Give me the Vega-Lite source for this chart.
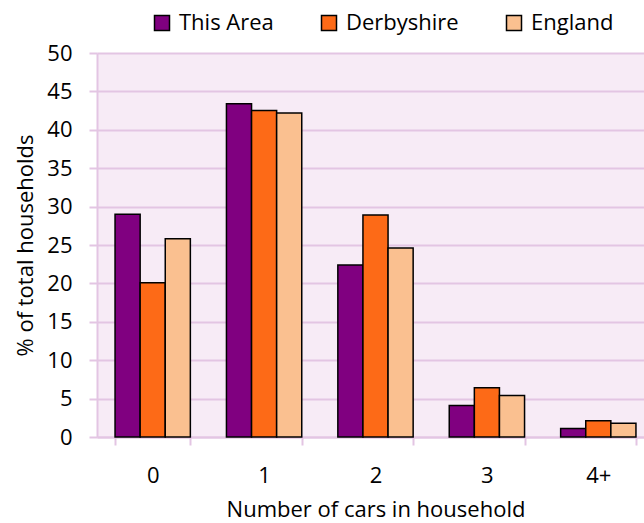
{
  "$schema": "https://vega.github.io/schema/vega-lite/v6.json",
  "width": 557,
  "height": 384,
  "autosize": {"type": "none"},
  "padding": {"left": 97, "top": 53, "right": 0, "bottom": 86},
  "background": "white",
  "config": {
    "font": "Open Sans",
    "view": {"fill": "#F7EBF6", "stroke": null}
  },
  "data": {
    "values": [
      {"cars": "0", "area": "This Area", "value": 29.0},
      {"cars": "0", "area": "Derbyshire", "value": 20.1},
      {"cars": "0", "area": "England", "value": 25.8},
      {"cars": "1", "area": "This Area", "value": 43.4},
      {"cars": "1", "area": "Derbyshire", "value": 42.5},
      {"cars": "1", "area": "England", "value": 42.2},
      {"cars": "2", "area": "This Area", "value": 22.4},
      {"cars": "2", "area": "Derbyshire", "value": 28.9},
      {"cars": "2", "area": "England", "value": 24.6},
      {"cars": "3", "area": "This Area", "value": 4.1},
      {"cars": "3", "area": "Derbyshire", "value": 6.4},
      {"cars": "3", "area": "England", "value": 5.4},
      {"cars": "4+", "area": "This Area", "value": 1.1},
      {"cars": "4+", "area": "Derbyshire", "value": 2.1},
      {"cars": "4+", "area": "England", "value": 1.8}
    ]
  },
  "mark": {"type": "bar", "stroke": "black", "strokeWidth": 1.5},
  "encoding": {
    "x": {
      "field": "cars",
      "type": "nominal",
      "sort": ["0", "1", "2", "3", "4+"],
      "scale": {"paddingInner": 0.324, "paddingOuter": 0.162},
      "axis": {
        "title": "Number of cars in household",
        "labelAngle": 0,
        "labelFontSize": 22,
        "labelColor": "black",
        "labelPadding": 20,
        "titleFontSize": 22,
        "titleFontWeight": "normal",
        "titleColor": "black",
        "titlePadding": 13,
        "domainColor": "#E3C5E3",
        "domainWidth": 2,
        "tickColor": "#E3C5E3",
        "tickWidth": 2,
        "tickSize": 8,
        "tickBand": "extent",
        "grid": false
      }
    },
    "xOffset": {
      "field": "area",
      "type": "nominal",
      "sort": ["This Area", "Derbyshire", "England"],
      "scale": {"paddingInner": 0, "paddingOuter": 0}
    },
    "y": {
      "field": "value",
      "type": "quantitative",
      "scale": {"domain": [0, 50], "nice": false},
      "axis": {
        "title": "% of total households",
        "values": [0, 5, 10, 15, 20, 25, 30, 35, 40, 45, 50],
        "labelFontSize": 22,
        "labelColor": "black",
        "labelPadding": 17,
        "titleFontSize": 22,
        "titleFontWeight": "normal",
        "titleColor": "black",
        "titlePadding": 9,
        "domainColor": "#E3C5E3",
        "domainWidth": 2,
        "tickColor": "#E3C5E3",
        "tickWidth": 2,
        "tickSize": 8,
        "grid": true,
        "gridColor": "#E3C5E3",
        "gridWidth": 2
      }
    },
    "color": {
      "field": "area",
      "type": "nominal",
      "sort": ["This Area", "Derbyshire", "England"],
      "scale": {
        "domain": ["This Area", "Derbyshire", "England"],
        "range": ["#800080", "#FD6A17", "#FAC090"]
      },
      "legend": {
        "title": null,
        "orient": "none",
        "direction": "horizontal",
        "legendX": 54,
        "legendY": -41,
        "padding": 0,
        "symbolType": "square",
        "symbolSize": 225,
        "symbolStrokeColor": "black",
        "symbolStrokeWidth": 1.5,
        "labelFontSize": 22,
        "labelColor": "black",
        "labelOffset": 6,
        "columnPadding": 44
      }
    }
  }
}
